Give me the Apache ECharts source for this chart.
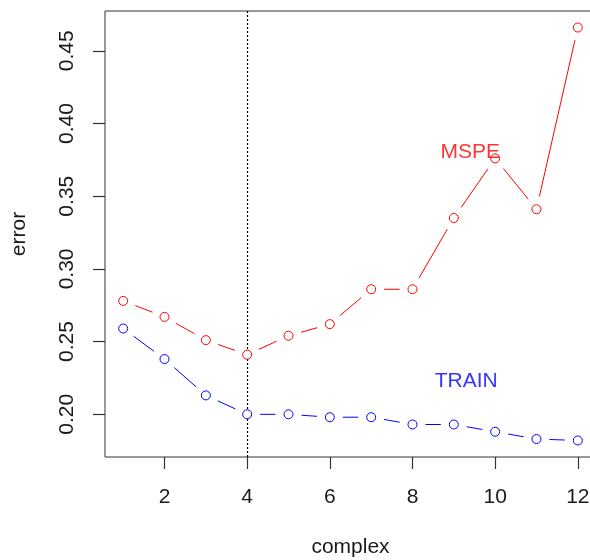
<!DOCTYPE html>
<html>
<head>
<meta charset="utf-8">
<script src="https://cdn.jsdelivr.net/npm/echarts@6/dist/echarts.min.js"></script>
<style>
  html, body { margin: 0; padding: 0; background: #fff; }
  #chart { width: 590px; height: 560px; }
</style>
</head>
<body>
<div id="chart"></div>
<script>
// Model complexity vs. error: test MSPE and training error
const complexity = [1, 2, 3, 4, 5, 6, 7, 8, 9, 10, 11, 12];
const mspe  = [0.278, 0.267, 0.251, 0.241, 0.254, 0.262, 0.286, 0.286, 0.335, 0.376, 0.341, 0.466];
const train = [0.259, 0.238, 0.213, 0.200, 0.200, 0.198, 0.198, 0.193, 0.193, 0.188, 0.183, 0.182];
const xTicks = [2, 4, 6, 8, 10, 12];
const yTicks = [0.20, 0.25, 0.30, 0.35, 0.40, 0.45];
const chosenComplexity = 4;
const noteTexts = ['MSPE', 'TRAIN'];
const noteX = [9.4, 9.3];
const noteY = [0.380, 0.223];

const RED = '#ff0000';
const BLUE = '#0000ff';
const FONT = 'Liberation Sans, Arial, sans-serif';
const GAP = 13; // px of line left out around each point

// axis ranges padded by 4% on each side, like base graphics
function padded(vals) {
  const lo = Math.min(...vals), hi = Math.max(...vals);
  const d = (hi - lo) * 0.04;
  return [lo - d, hi + d];
}
const [xMin, xMax] = padded(complexity);
const [yMin, yMax] = padded(mspe.concat(train));

const pairs = (ys) => complexity.map((x, i) => [x, ys[i]]);
// consecutive point pairs: [x0, y0, x1, y1]
const segments = (ys) => complexity.slice(1).map((x, i) => [complexity[i], ys[i], x, ys[i + 1]]);

// line segment between two points, trimmed by GAP at both ends
function gappedSegment(color) {
  return function (params, api) {
    const a = api.coord([api.value(0), api.value(1)]);
    const b = api.coord([api.value(2), api.value(3)]);
    const dx = b[0] - a[0], dy = b[1] - a[1];
    const len = Math.hypot(dx, dy);
    if (len <= 2 * GAP) return null;
    const ux = dx / len, uy = dy / len;
    return {
      type: 'line',
      shape: { x1: a[0] + ux * GAP, y1: a[1] + uy * GAP, x2: b[0] - ux * GAP, y2: b[1] - uy * GAP },
      style: { stroke: color, lineWidth: 1 }
    };
  };
}

const chart = echarts.init(document.getElementById('chart'));

const ringSeries = (ys, color) => ({
  type: 'scatter', data: pairs(ys), z: 10,
  symbol: 'circle', symbolSize: 9,
  itemStyle: { color: '#ffffff', borderColor: color, borderWidth: 1, opacity: 1 }
});

const segmentSeries = (ys, color) => ({
  type: 'custom', data: segments(ys), z: 3,
  renderItem: gappedSegment(color),
  encode: { x: [0, 2], y: [1, 3] }
});

chart.setOption({
  animation: false,
  tooltip: { show: false },
  grid: {
    left: 105, top: 11, width: 491, height: 446,
    outerBoundsMode: 'none',
    show: true, borderColor: '#333', borderWidth: 1
  },
  xAxis: {
    type: 'value', min: xMin, max: xMax,
    name: 'complex', nameLocation: 'middle', nameGap: 80,
    nameTextStyle: { fontFamily: FONT, fontSize: 21, color: '#1a1a1a' },
    axisLine: { show: false },
    splitLine: { show: false },
    axisTick: { show: true, inside: false, length: 12, customValues: xTicks,
                lineStyle: { color: '#333', width: 1.2 } },
    axisLabel: { show: true, customValues: xTicks, margin: 30,
                 fontFamily: FONT, fontSize: 21, color: '#1a1a1a' }
  },
  yAxis: {
    type: 'value', min: yMin, max: yMax,
    name: 'error', nameLocation: 'middle', nameGap: 75, nameRotate: 90,
    nameTextStyle: { fontFamily: FONT, fontSize: 21, color: '#1a1a1a' },
    axisLine: { show: false },
    splitLine: { show: false },
    axisTick: { show: true, inside: false, length: 12, customValues: yTicks,
                lineStyle: { color: '#333', width: 1.2 } },
    axisLabel: { show: true, customValues: yTicks, rotate: 90, margin: 27,
                 fontFamily: FONT, fontSize: 21, color: '#1a1a1a',
                 formatter: (v) => v.toFixed(2) }
  },
  series: [
    segmentSeries(mspe, RED),
    segmentSeries(train, BLUE),
    ringSeries(mspe, RED),
    ringSeries(train, BLUE),
    // dotted reference line at the chosen complexity
    { type: 'line', data: [], z: 12,
      markLine: {
        silent: true, symbol: ['none', 'none'], label: { show: false },
        lineStyle: { color: '#000', type: [2, 2], width: 1.2 },
        data: [{ xAxis: chosenComplexity }]
      } },
    // text annotations
    { type: 'scatter', z: 14, symbolSize: 0,
      data: noteTexts.map((t, i) => ({
        name: t, value: [noteX[i], noteY[i]],
        label: { show: true, position: 'inside', formatter: t,
                 fontFamily: FONT, fontSize: 21, color: i === 0 ? RED : BLUE }
      })) }
  ]
});
</script>
</body>
</html>
